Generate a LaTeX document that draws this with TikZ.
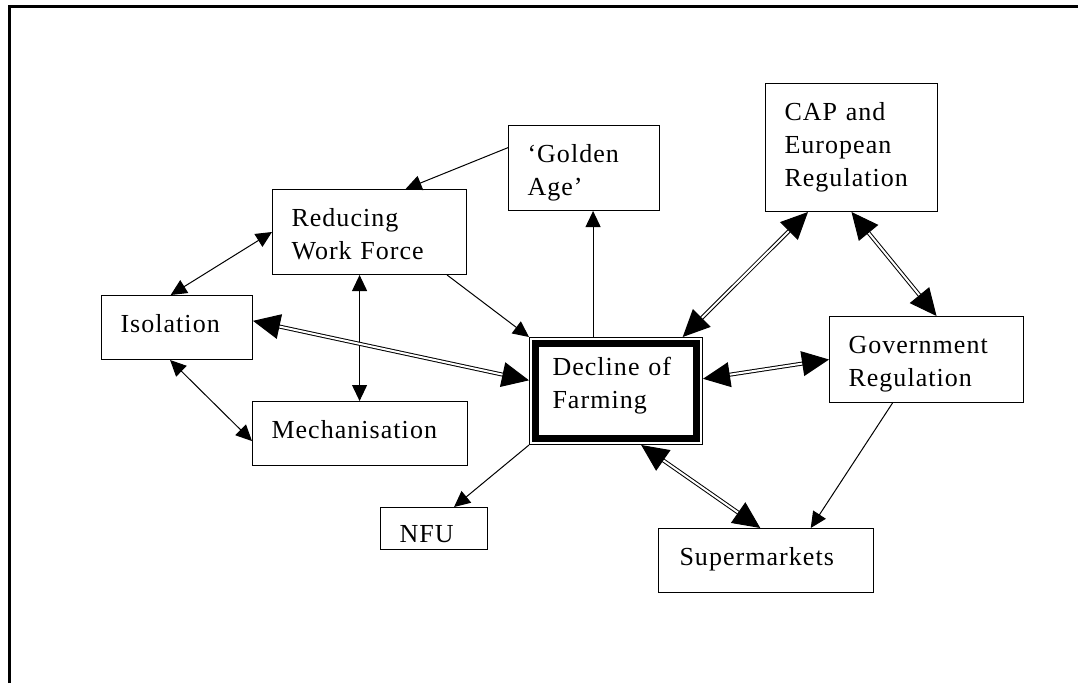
\documentclass[tikz,border=0pt]{standalone}
\usepackage{fontspec}
\setmainfont{Liberation Serif}[LetterSpace=4]
\usetikzlibrary{arrows.meta,positioning}

\tikzset{
	blk/.style 2 args={draw,line width=1pt,anchor=north west,inner xsep=19pt,inner ysep=0pt,
		align=left,text width=#1,text height=37pt,text depth=#2,
		font=\fontsize{26}{33}\selectfont},
	lnk/.style={line width=1pt,>={Triangle[length=16pt,width=15pt]}},
	dbl/.style={double,line width=1pt,double distance=2pt,>={Triangle[length=27pt,width=25pt]}}
}

\begin{document}
\begin{tikzpicture}[x=1pt,y=-1pt]
					\useasboundingbox (0,0) rectangle (1078,683);
					
					% the frame, only top and left edge show
					\coordinate (FrameBL) at (9,683);
					\coordinate (FrameTL) at (9,6.5);
					\coordinate (FrameTR) at (1078,6.5);
					\draw [line width=3pt] (FrameBL)
					-- (FrameTL) -- (FrameTR);
					
					\node[blk={156pt}{48pt}] (work) at (272,189) {Reducing\\Work Force};
					\node[blk={113pt}{48pt}] (golden) at (508,125) {‘Golden\\Age’};
					\node[blk={134pt}{91pt}] (cap) at (765,83) {CAP and\\European\\Regulation};
					\node[blk={156pt}{49pt}] (gov) at (829,316) {Government\\Regulation};
					\node[blk={113pt}{27pt}] (iso) at (101,295) {Isolation};
					\node[blk={177pt}{27pt}] (mech) at (252,401) {Mechanisation};
					\node[blk={69pt}{7pt},text height=35pt] (nfu) at (380,507) {NFU};
					\node[blk={173pt}{27pt},inner xsep=21pt] (super) at (658,528) {Supermarkets};
					\node[blk={127pt}{69pt},inner xsep=23pt,text height=38pt] (decline) at (529,337) {Decline of\\Farming};
					
					% thick inner frame of the centre box
					\draw [line width=7pt] ([shift={(6.2pt,-6.2pt)}]decline.north west)
					rectangle ([shift={(-6.2pt,6.2pt)}]decline.south east);
					
					\draw [lnk,->] (golden.165)
					-- (work.50);
					
					\draw [lnk,->] (decline.113)
					-- (decline.113 |- golden.south);
					
					\draw [lnk,->] (work.331)
					-- (decline.north west);
					
					\draw [lnk,<->] (work.west)
					-- (iso.101);
					
					\draw [lnk,<->] (work.257)
					-- (work.257 |- mech.north);
					
					\draw [lnk,<->] (iso.258)
					-- (mech.184);
					
					\draw [lnk,->] (decline.south west)
					-- (nfu.47);
					
					\draw [lnk,->] (gov.232)
					-- (super.36);
					
					\draw [dbl,<->] (iso.5)
					-- (decline.173);
					
					\draw [dbl,<->] (decline.8)
					-- (gov.west);
					
					\draw [dbl,<->] (decline.39)
					-- (cap.236);
					
					\draw [dbl,<->] (cap.south)
					-- (gov.77);
					
					\draw [dbl,<->] (decline.295)
					-- (super.100);
					
\end{tikzpicture}
\end{document}
